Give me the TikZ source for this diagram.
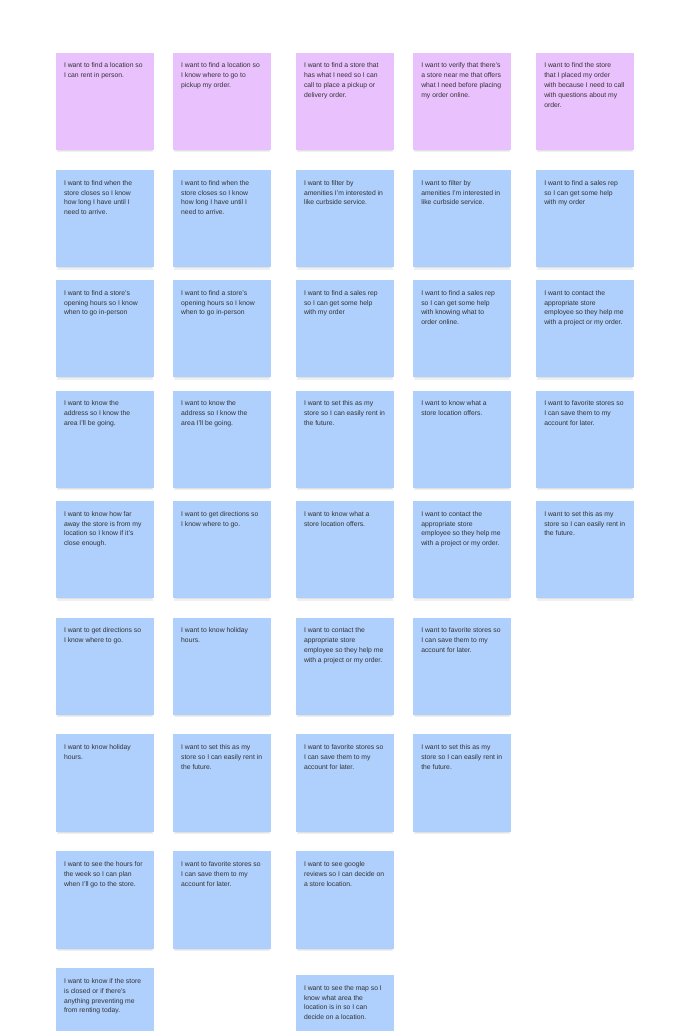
\documentclass[tikz,border=0pt]{standalone}
\usepackage{fontspec}
\setmainfont{Liberation Sans}
\usetikzlibrary{calc}
\definecolor{stickypink}{HTML}{E9C1FD}
\definecolor{stickyblue}{HTML}{AFCFFD}
\definecolor{stickytext}{HTML}{333333}
\tikzset{
  notebox/.style={rectangle, anchor=north west, minimum width=97.5pt, minimum height=97.3pt, inner sep=0pt, outer sep=0pt},
  pinknote/.style={notebox, fill=stickypink},
  bluenote/.style={notebox, fill=stickyblue},
  notetext/.style={anchor=north west, inner sep=0pt, outer sep=0pt, align=left, text=stickytext,
    font=\fontsize{6.8}{9.77}\selectfont},
  noteshadow/.style={fill=black, opacity=0.06}
}
\newcommand\mynote[5]{%
  \node[#4] (#1) at (#2,#3) {};
  \fill[noteshadow] ($(#1.south west)+(0.5,0)$) rectangle ($(#1.south east)+(-0.5,2.2)$);
  \fill[noteshadow] ($(#1.south west)+(1.5,0)$) rectangle ($(#1.south east)+(-1.5,1)$);
  \node[notetext] (#1t) at ($(#1.north west)+(8,10.3)$) {#5};
}
\begin{document}
\begin{tikzpicture}[x=1pt,y=-1pt]
\useasboundingbox (0,0) rectangle (690,1031);
\clip (0,0) rectangle (690,1031);
\fill[white] (0,0) rectangle (690,1031);
% Row 1
\mynote{a1}{56}{52.7}{pinknote}{I want to find a location so\\I can rent in person.}
\mynote{b1}{173.2}{52.7}{pinknote}{I want to find a location so\\I know where to go to\\pickup my order.}
\mynote{c1}{296}{52.7}{pinknote}{I want to find a store that\\has what I need so I can\\call to place a pickup or\\delivery order.}
\mynote{d1}{413.3}{52.7}{pinknote}{I want to verify that there’s\\a store near me that offers\\what I need before placing\\my order online.}
\mynote{e1}{536.3}{52.7}{pinknote}{I want to find the store\\that I placed my order\\with because I need to call\\with questions about my\\order.}
% Row 2
\mynote{a2}{56}{170}{bluenote}{I want to find when the\\store closes so I know\\how long I have until I\\need to arrive.}
\mynote{b2}{173.2}{170}{bluenote}{I want to find when the\\store closes so I know\\how long I have until I\\need to arrive.}
\mynote{c2}{296}{170}{bluenote}{I want to filter by\\amenities I’m interested in\\like curbside service.}
\mynote{d2}{413.3}{170}{bluenote}{I want to filter by\\amenities I’m interested in\\like curbside service.}
\mynote{e2}{536.3}{170}{bluenote}{I want to find a sales rep\\so I can get some help\\with my order}
% Row 3
\mynote{a3}{56}{280}{bluenote}{I want to find a store’s\\opening hours so I know\\when to go in-person}
\mynote{b3}{173.2}{280}{bluenote}{I want to find a store’s\\opening hours so I know\\when to go in-person}
\mynote{c3}{296}{280}{bluenote}{I want to find a sales rep\\so I can get some help\\with my order}
\mynote{d3}{413.3}{280}{bluenote}{I want to find a sales rep\\so I can get some help\\with knowing what to\\order online.}
\mynote{e3}{536.3}{280}{bluenote}{I want to contact the\\appropriate store\\employee so they help me\\with a project or my order.}
% Row 4
\mynote{a4}{56}{390.7}{bluenote}{I want to know the\\address so I know the\\area I’ll be going.}
\mynote{b4}{173.2}{390.7}{bluenote}{I want to know the\\address so I know the\\area I’ll be going.}
\mynote{c4}{296}{390.7}{bluenote}{I want to set this as my\\store so I can easily rent in\\the future.}
\mynote{d4}{413.3}{390.7}{bluenote}{I want to know what a\\store location offers.}
\mynote{e4}{536.3}{390.7}{bluenote}{I want to favorite stores so\\I can save them to my\\account for later.}
% Row 5
\mynote{a5}{56}{501}{bluenote}{I want to know how far\\away the store is from my\\location so I know if it’s\\close enough.}
\mynote{b5}{173.2}{501}{bluenote}{I want to get directions so\\I know where to go.}
\mynote{c5}{296}{501}{bluenote}{I want to know what a\\store location offers.}
\mynote{d5}{413.3}{501}{bluenote}{I want to contact the\\appropriate store\\employee so they help me\\with a project or my order.}
\mynote{e5}{536.3}{501}{bluenote}{I want to set this as my\\store so I can easily rent in\\the future.}
% Row 6
\mynote{a6}{56}{617.7}{bluenote}{I want to get directions so\\I know where to go.}
\mynote{b6}{173.2}{617.7}{bluenote}{I want to know holiday\\hours.}
\mynote{c6}{296}{617.7}{bluenote}{I want to contact the\\appropriate store\\employee so they help me\\with a project or my order.}
\mynote{d6}{413.3}{617.7}{bluenote}{I want to favorite stores so\\I can save them to my\\account for later.}
% Row 7
\mynote{a7}{56}{734.3}{bluenote}{I want to know holiday\\hours.}
\mynote{b7}{173.2}{734.3}{bluenote}{I want to set this as my\\store so I can easily rent in\\the future.}
\mynote{c7}{296}{734.3}{bluenote}{I want to favorite stores so\\I can save them to my\\account for later.}
\mynote{d7}{413.3}{734.3}{bluenote}{I want to set this as my\\store so I can easily rent in\\the future.}
% Row 8
\mynote{a8}{56}{851.3}{bluenote}{I want to see the hours for\\the week so I can plan\\when I’ll go to the store.}
\mynote{b8}{173.2}{851.3}{bluenote}{I want to favorite stores so\\I can save them to my\\account for later.}
\mynote{c8}{296}{851.3}{bluenote}{I want to see google\\reviews so I can decide on\\a store location.}
% Row 9
\mynote{a9}{56}{968.3}{bluenote}{I want to know if the store\\is closed or if there’s\\anything preventing me\\from renting today.}
\mynote{c9}{296}{975}{bluenote}{I want to see the map so I\\know what area the\\location is in so I can\\decide on a location.}
\end{tikzpicture}
\end{document}
